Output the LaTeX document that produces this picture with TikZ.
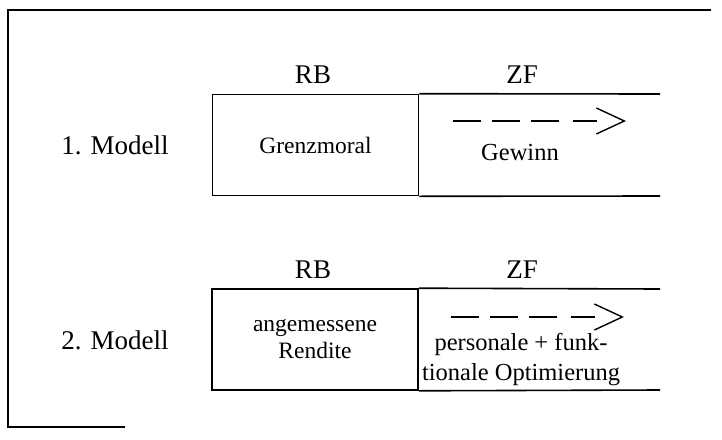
\documentclass[tikz,border=0pt]{standalone}
\usepackage{fontspec}
\setmainfont{Liberation Serif}
\usepackage{tikz}
\usetikzlibrary{arrows.meta,calc}

\begin{document}
\begin{tikzpicture}[
    x=1pt, y=-1pt,
    heading/.style={font=\fontsize{27}{30}\selectfont},
    rbbox/.style={rectangle, draw, line width=1.6pt, minimum width=206pt, minimum height=101pt, align=center, font=\fontsize{23.5}{27}\selectfont},
    zftext/.style={align=center, font=\fontsize{24.5}{30}\selectfont},
    zfline/.style={line width=1.6pt},
    frame/.style={line width=1.3pt},
    trend/.style={line width=1.4pt, dash pattern=on 28pt off 11pt on 28pt off 11pt on 28pt off 14pt on 24pt off 40pt, -{Straight Barb[length=28pt, width=26pt, line width=1.4pt]}}
]
\useasboundingbox (0,0) rectangle (722,439);

% Frame
\coordinate (frameTL) at (8,10);
\coordinate (frameTR) at (711,10);
\coordinate (frameBL) at (8,427);
\coordinate (frameBR) at (125,427);
\draw[frame] (frameTR) -- (frameTL) -- (frameBL) -- (frameBR);

% 1. Modell
\node[heading] (modell1) at (115,145) {1. Modell};
\node[heading] (rb1) at (313,75) {RB};
\node[heading] (zf1) at (522,75) {ZF};
\node[rbbox] (grenz) at (315.5,145) {Grenzmoral};
\coordinate (zf1top) at (660,94);
\coordinate (zf1bot) at (660,196);
\draw[zfline] (grenz.north east) -- (zf1top);
\draw[zfline] (grenz.south east) -- (zf1bot);
\coordinate (trend1s) at (453,121);
\coordinate (trend1e) at (626,121);
\draw[trend] (trend1s) -- (trend1e);
\node[zftext] (gewinn) at (520,153) {Gewinn};

% 2. Modell
\node[heading] (modell2) at (115,340) {2. Modell};
\node[heading] (rb2) at (313,270) {RB};
\node[heading] (zf2) at (522,270) {ZF};
\node[rbbox] (rendite) at (315,339.5) {angemessene\\Rendite};
\coordinate (zf2top) at (660,289);
\coordinate (zf2bot) at (660,390);
\draw[zfline] (rendite.north east) -- (zf2top);
\draw[zfline] (rendite.south east) -- (zf2bot);
\coordinate (trend2s) at (451,317);
\coordinate (trend2e) at (624,317);
\draw[trend] (trend2s) -- (trend2e);
\node[zftext] (optim) at (521,360) {personale + funk-\\tionale Optimierung};

\end{tikzpicture}
\end{document}
